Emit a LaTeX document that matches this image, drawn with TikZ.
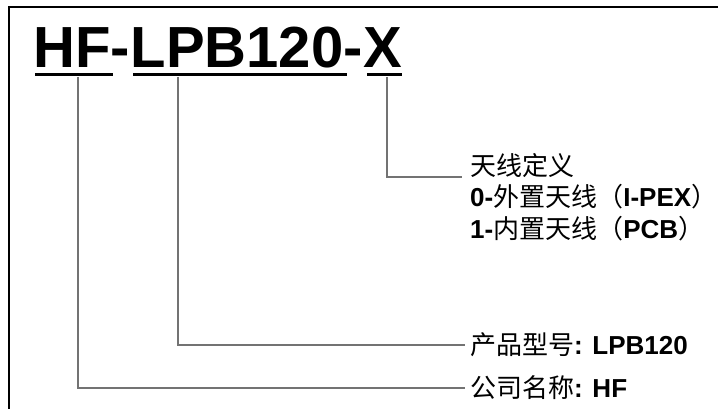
\documentclass[tikz,border=0pt]{standalone}
\usepackage{fontspec}
\setmainfont{Liberation Sans}
\newfontfamily\cjk{Noto Sans CJK SC}
\usetikzlibrary{calc}
\begin{document}
\begin{tikzpicture}[x=1pt,y=-1pt,
  titlepart/.style={inner sep=0pt, anchor=base west, font=\fontsize{58}{60}\selectfont\bfseries},
  uline/.style={line width=3pt, black},
  conn/.style={line width=1.5pt, black!55},
  frameline/.style={line width=2pt, black},
  lbl/.style={inner xsep=5pt, inner ysep=0pt, font=\fontsize{26}{28}\selectfont},
  lblbase/.style={inner sep=0pt, anchor=base west, font=\fontsize{26}{28}\selectfont}]
\useasboundingbox (0,0) rectangle (718,409);
% frame
\coordinate (ftl) at (9,7);
\coordinate (ftr) at (718,7);
\coordinate (fbl) at (9,409);
\draw[frameline] (ftr) -- (ftl) -- (fbl);
% title
\node[titlepart] (t1) at (33,68) {HF};
\node[titlepart] (t2) at (t1.base east) {-};
\node[titlepart] (t3) at (t2.base east) {LPB120};
\node[titlepart] (t4) at (t3.base east) {-};
\node[titlepart] (t5) at (t4.base east) {X};
\draw[uline] ($(t1.base west)+(2,7)$) -- ($(t1.base east)+(2,7)$);
\draw[uline] ($(t3.base west)+(3,7)$) -- ($(t3.base east)+(3,7)$);
\draw[uline] ($(t5.base west)+(4,7)$) -- ($(t5.base east)+(0,7)$);
% labels
\node[lblbase] (ant) at (470,176) {\cjk 天线定义};
\node[lblbase] (ant0) at (470,207) {\textbf{0-}{\cjk 外置天线（}\textbf{I-PEX}{\cjk ）}};
\node[lblbase] (ant1) at (470,238) {\textbf{1-}{\cjk 内置天线（}\textbf{PCB}{\cjk ）}};
\node[lbl, anchor=west] (pn) at (465,345) {{\cjk 产品型号}\textbf{: LPB120}};
\node[lbl, anchor=west] (co) at (465,388) {{\cjk 公司名称}\textbf{: HF}};
% connectors
\coordinate (cx) at (387,77);
\coordinate (cl) at (178,77);
\coordinate (ch) at (78,77);
\draw[conn] (cx) |- ($(ant.base west)+(-8,1)$);
\draw[conn] (cl) |- (pn.west);
\draw[conn] (ch) |- (co.west);
\end{tikzpicture}
\end{document}
